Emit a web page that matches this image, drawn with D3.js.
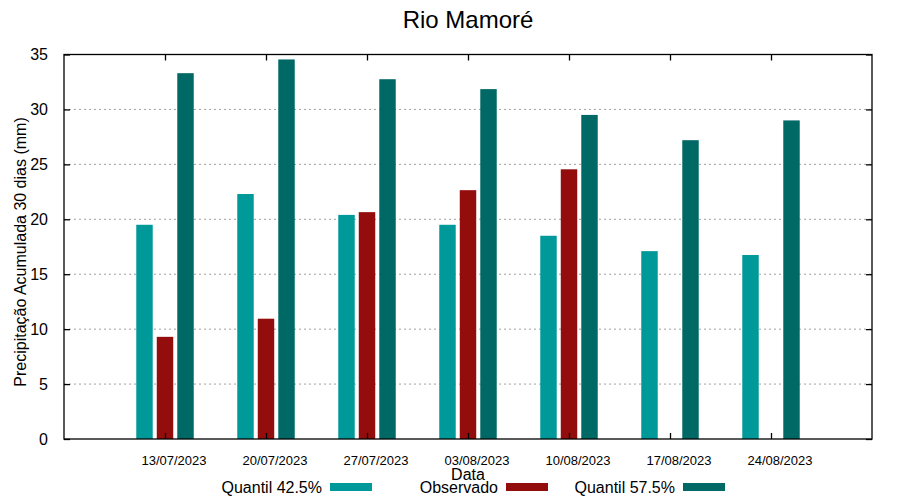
<!DOCTYPE html>
<html lang="pt">
<head>
  <meta charset="UTF-8">
  <title>Rio Mamoré</title>
  <script src="https://d3js.org/d3.v7.min.js"></script>
  <style>
    body { margin: 0; background: #fff; }
    text { font-family: "Liberation Sans", Arial, sans-serif; fill: #000; }
  </style>
</head>
<body>
  <div id="chart"></div>
  <script>
    // Chart data
    const dates = ["13/07/2023", "20/07/2023", "27/07/2023", "03/08/2023", "10/08/2023", "17/08/2023", "24/08/2023"];
    const quantil425 = [19.5, 22.3, 20.4, 19.5, 18.5, 17.1, 16.75];
    const observado = [9.3, 10.95, 20.65, 22.65, 24.55, null, null];
    const quantil575 = [33.3, 34.55, 32.75, 31.85, 29.5, 27.2, 29.0];
    const yTicks = [0, 5, 10, 15, 20, 25, 30, 35];

    const series = [
      { name: "Quantil 42.5%", values: quantil425, color: "#009999", offset: -0.203 },
      { name: "Observado", values: observado, color: "#940d0d", offset: 0 },
      { name: "Quantil 57.5%", values: quantil575, color: "#006966", offset: 0.203 }
    ];

    const width = 900, height = 500;
    const margin = { top: 54.5, right: 28, bottom: 61, left: 64 };

    const svg = d3.select("#chart").append("svg")
      .attr("width", width)
      .attr("height", height);

    // Scales: groups sit at 1..7 on a 0..8 axis
    const x = d3.scaleLinear()
      .domain([0, dates.length + 1])
      .range([margin.left, width - margin.right]);

    const y = d3.scaleLinear()
      .domain([0, 35])
      .range([height - margin.bottom, margin.top]);

    const barW = x(0.163) - x(0);

    // Dashed grid
    svg.append("g")
      .selectAll("line")
      .data(yTicks.filter(d => d > 0 && d < 35))
      .enter().append("line")
        .attr("x1", x(0))
        .attr("x2", x(dates.length + 1))
        .attr("y1", d => y(d))
        .attr("y2", d => y(d))
        .attr("stroke", "#a0a0a0")
        .attr("stroke-width", 1)
        .attr("stroke-dasharray", "2,3");

    // Bars
    series.forEach(s => {
      svg.append("g")
        .selectAll("rect")
        .data(s.values.map((v, i) => ({ v, i })).filter(d => d.v != null))
        .enter().append("rect")
          .attr("x", d => x(d.i + 1 + s.offset) - barW / 2)
          .attr("y", d => y(d.v))
          .attr("width", barW)
          .attr("height", d => y(0) - y(d.v))
          .attr("fill", s.color);
    });

    // Axes (gnuplot style: inward ticks on all sides)
    const xTickVals = dates.map((d, i) => i + 1);

    svg.append("g")
      .attr("transform", `translate(0,${y(0)})`)
      .call(d3.axisBottom(x).tickValues(xTickVals).tickSize(-6).tickFormat(""))
      .call(g => g.select(".domain").remove());

    svg.append("g")
      .attr("transform", `translate(0,${y(35)})`)
      .call(d3.axisTop(x).tickValues(xTickVals).tickSize(-6).tickFormat(""))
      .call(g => g.select(".domain").remove());

    svg.append("g")
      .attr("transform", `translate(${x(0)},0)`)
      .call(d3.axisLeft(y).tickValues(yTicks).tickSize(-6).tickPadding(16).tickFormat(d3.format("d")))
      .call(g => g.select(".domain").remove())
      .call(g => g.selectAll("text")
        .style("font-family", "'Liberation Sans', Arial, sans-serif")
        .style("font-size", "16px"));

    svg.append("g")
      .attr("transform", `translate(${x(dates.length + 1)},0)`)
      .call(d3.axisRight(y).tickValues(yTicks).tickSize(-6).tickFormat(""))
      .call(g => g.select(".domain").remove());

    svg.selectAll(".tick line").attr("stroke", "#000").attr("stroke-width", 1.3);

    // Frame
    svg.append("rect")
      .attr("x", x(0))
      .attr("y", y(35))
      .attr("width", x(dates.length + 1) - x(0))
      .attr("height", y(0) - y(35))
      .attr("fill", "none")
      .attr("stroke", "#000")
      .attr("stroke-width", 1.3);

    // Date labels
    svg.append("g")
      .selectAll("text")
      .data(dates)
      .enter().append("text")
        .attr("x", (d, i) => x(i + 1) + 9)
        .attr("y", 465)
        .attr("text-anchor", "middle")
        .style("font-size", "13px")
        .text(d => d);

    // Titles
    svg.append("text")
      .attr("x", 468)
      .attr("y", 28)
      .attr("text-anchor", "middle")
      .style("font-size", "24px")
      .text("Rio Mamoré");

    svg.append("text")
      .attr("x", 468)
      .attr("y", 480)
      .attr("text-anchor", "middle")
      .style("font-size", "16px")
      .text("Data");

    svg.append("text")
      .attr("transform", `translate(26,252) rotate(-90)`)
      .attr("text-anchor", "middle")
      .style("font-size", "16px")
      .text("Precipitação Acumulada 30 dias (mm)");

    // Legend
    const legendX = [322, 498, 675];
    const legend = svg.append("g")
      .selectAll("g")
      .data(series)
      .enter().append("g")
        .attr("transform", (d, i) => `translate(${legendX[i]},487)`);

    legend.append("text")
      .attr("x", 0)
      .attr("y", 5.5)
      .attr("text-anchor", "end")
      .style("font-size", "16px")
      .text(d => d.name);

    legend.append("rect")
      .attr("x", 8)
      .attr("y", -4)
      .attr("width", 42)
      .attr("height", 8)
      .attr("fill", d => d.color);
  </script>
</body>
</html>
